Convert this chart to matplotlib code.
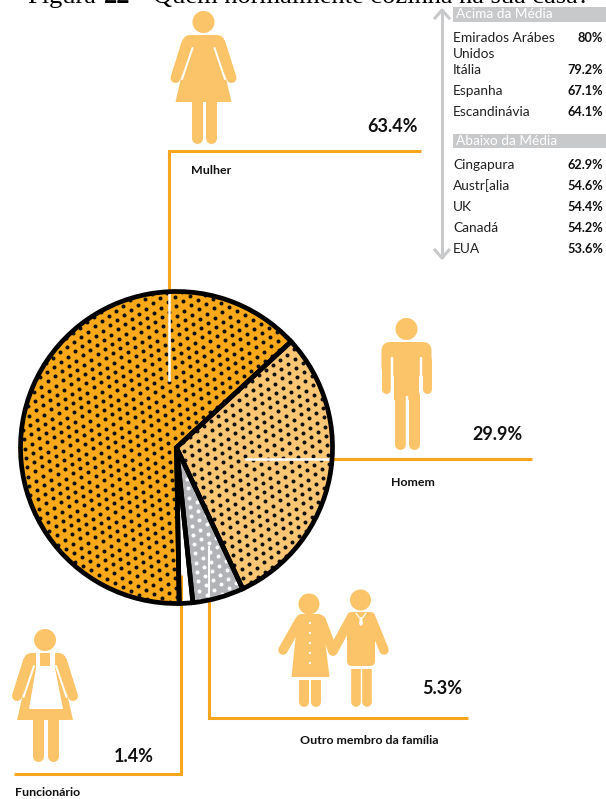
#!/usr/bin/env python3
"""Quem normalmente cozinha: pizza com pictogramas e tabela por país."""
import numpy as np
import matplotlib
matplotlib.use("Agg")
import matplotlib.pyplot as plt
from matplotlib.patches import Circle, FancyBboxPatch, Polygon, Rectangle

ORANGE, LIGHT, GREY, ICON = "#FBA919", "#FDC675", "#B1B3B6", "#FCC468"
LINE, BAND = "#F9A61F", "#C8C9CB"
SANS = "Lato"

groups = ["Mulher", "Homem", "Outro membro da família", "Funcionário"]
shares = [63.4, 29.9, 5.3, 1.4]
slice_colors = [ORANGE, LIGHT, GREY, "white"]
dot_colors = ["#111111", "#111111", "white", None]

above_names = ["Emirados Arábes\nUnidos", "Itália", "Espanha", "Escandinávia"]
above_vals = ["80%", "79.2%", "67.1%", "64.1%"]
below_names = ["Cingapura", "Austr[alia", "UK", "Canadá", "EUA"]
below_vals = ["62.9%", "54.6%", "54.4%", "54.2%", "53.6%"]

fig = plt.figure(figsize=(6.06, 7.99), dpi=100, facecolor="white")
ax = fig.add_axes([0, 0, 1, 1])


def limb(x0, y0, x1, y1, w, color=ICON, cap="round", z=5):
    # w em pixels da figura
    ax.plot([x0, x1], [y0, y1], color=color, lw=w * 0.72, solid_capstyle=cap, zorder=z)


def poly(pts, color=ICON, z=5):
    ax.add_patch(Polygon(pts, closed=True, fc=color, ec="none", zorder=z))


def block(x, y, w, h, r=7, color=ICON, z=5):
    ax.add_patch(FancyBboxPatch((x + r, y + r), w - 2 * r, h - 2 * r,
                                boxstyle=f"round,pad={r}", fc=color, ec="none", zorder=z))


def head(x, y, r=11):
    ax.add_patch(Circle((x, y), r, fc=ICON, ec="none", zorder=5))


def woman(cx, top, apron=False):
    # cx = eixo do corpo, top = centro da cabeça
    head(cx, top, 11)
    y = top + 13
    block(cx - 21, y, 42, 20, r=8)
    poly([(cx - 14, y + 6), (cx + 14, y + 6), (cx + 28, y + 67), (cx - 28, y + 67)])
    limb(cx - 17, y + 8, cx - 28, y + 43, 10)
    limb(cx + 17, y + 8, cx + 28, y + 43, 10)
    limb(cx - 11, y + 13, cx - 21.5, y + 44, 2, color="white", z=6)
    limb(cx + 11, y + 13, cx + 21.5, y + 44, 2, color="white", z=6)
    limb(cx - 7, y + 66, cx - 7, y + 103, 11)
    limb(cx + 7.5, y + 66, cx + 7.5, y + 103, 11)
    if apron:
        poly([(cx - 9, y), (cx + 10, y), (cx + 10, y + 15), (cx + 18, y + 56),
              (cx - 16, y + 56), (cx - 9, y + 15)], color="white", z=6)
        ax.add_patch(Rectangle((cx - 5, y), 10, 13, fc=ICON, ec="none", zorder=7))


def man():
    head(406.5, 329, 11)
    block(381.5, 342, 50, 34, r=9)
    ax.add_patch(Rectangle((394, 350), 25, 50, fc=ICON, ec="none", zorder=5))
    limb(386.2, 360, 386.2, 388.5, 9)
    limb(427.2, 360, 427.2, 388.5, 9)
    limb(392.3, 358, 392.3, 394, 2.5, color="white", z=6)
    limb(420.8, 358, 420.8, 394, 2.5, color="white", z=6)
    limb(399.5, 395, 399.5, 444, 11)
    limb(414, 395, 414, 444, 11)
    limb(406.8, 397, 406.8, 452, 2.5, color="white", z=6)


def couple():
    # ela
    head(309, 604, 10.5)
    poly([(298, 615), (322, 615), (329.5, 677), (291.5, 677)])
    block(297, 614, 26, 12, r=5)
    limb(300, 620, 283, 650, 9.5)
    limb(321, 620, 333, 651, 9.5)
    limb(304, 678, 304, 702, 10)
    limb(315.5, 678, 315.5, 702, 10)
    ax.add_patch(Rectangle((291, 677), 39, 2.5, fc="white", ec="none", zorder=6))
    for yb in (623, 633, 643, 653, 663):
        ax.add_patch(Circle((310, yb), 1.1, fc="white", ec="none", zorder=6))
    # ele
    head(360.5, 600, 10.5)
    block(347, 612, 28, 54, r=5)
    limb(351, 618, 333, 651, 9.5)
    limb(371, 618, 384, 650, 9.5)
    limb(356.2, 668, 356.2, 702, 9.6)
    limb(366.9, 668, 366.9, 702, 9.6)
    ax.add_patch(Rectangle((351, 666), 21, 2.5, fc="white", ec="none", zorder=6))
    limb(356, 613, 359.5, 618, 1.2, color="white", z=6)
    limb(366, 613, 362.5, 618, 1.2, color="white", z=6)
    poly([(360, 617), (362, 617), (363, 624), (361, 626), (359, 624)], color="white", z=6)


# fatias; eixo y invertido, por isso counterclock aparece no sentido horário
wedges, _ = ax.pie(shares, colors=slice_colors, center=(176.5, 447.5), radius=156,
                   startangle=-271, counterclock=True, frame=True,
                   wedgeprops={"lw": 0, "zorder": 1})

# textura de pontos, recortada em cada fatia
u, v = np.meshgrid(np.arange(-45, 45), np.arange(-45, 45))
dot_x = 176 + 8.0 * u + 1.0 * v
dot_y = 447 + 4.1 * u + 9.3 * v
for wedge, dc in zip(wedges, dot_colors):
    if dc is None:
        continue
    sc = ax.scatter(dot_x.ravel(), dot_y.ravel(), s=8.3, color=dc, lw=0, zorder=2)
    sc.set_clip_path(wedge)

# contorno por cima das linhas de chamada
ax.pie(shares, colors=["none"] * 4, center=(176.5, 447.5), radius=156,
       startangle=-271, counterclock=True, frame=True,
       wedgeprops={"lw": 3.4, "edgecolor": "black", "zorder": 4})

ax.set_xlim(0, 606)
ax.set_ylim(799, 0)
ax.set_aspect("auto")
ax.axis("off")

# linhas de chamada: laranja fora, branca dentro da pizza
leader = {"color": LINE, "lw": 2.2, "solid_joinstyle": "miter", "solid_capstyle": "butt", "zorder": 3}
ax.plot([421, 169, 169], [151, 151, 292], **leader)
ax.plot([169, 169], [292, 380], color="white", lw=1.8, zorder=3)
ax.plot([532, 332], [459, 459], **leader)
ax.plot([332, 246], [459, 459], color="white", lw=1.8, zorder=3)
ax.plot([209, 209, 468], [600, 718, 718], **leader)
ax.plot([209, 209], [547, 600], color="white", lw=1.5, zorder=3)
ax.plot([181, 181, 14], [575, 774, 774], **leader)

woman(203.5, 22)
man()
couple()
woman(45, 640, apron=True)

# rótulos de cada grupo
value_pos = [(418, 127), (523, 435), (462, 688), (154, 756)]
name_pos = [(191, 171), (391, 482), (300, 740), (15, 792)]
for g, s, (vx, vy), (nx, ny) in zip(groups, shares, value_pos, name_pos):
    ax.text(vx, vy, f"{s}%", ha="right", va="center", family=SANS, weight="bold",
            fontsize=13, color="#111111")
    ax.text(nx, ny, g, ha="left", va="center", family=SANS, weight="bold",
            fontsize=8.9, color="#111111")

# título cortado pela borda superior da página
serif = "Liberation Serif"
ax.text(27, 3, "Figura", family=serif, fontsize=19, va="baseline", color="black")
ax.text(104, 3, "22", family=serif, weight="bold", fontsize=19, va="baseline", color="black")
ax.text(133, 3, "–", family=serif, fontsize=19, va="baseline", color="black")
ax.text(153, 3, "Quem normalmente cozinha na sua casa?", family=serif, fontsize=19,
        va="baseline", color="black")

# seta e faixas da tabela
ax.plot([442, 442], [11, 257], color=BAND, lw=2.2, zorder=3)
ax.plot([435, 442, 449], [18, 10, 18], color=BAND, lw=2.2, zorder=3)
ax.plot([435, 442, 449], [250, 258, 250], color=BAND, lw=2.2, zorder=3)
for y0, y1, txt in [(7, 22, "Acima da Média"), (134, 148, "Abaixo da Média")]:
    ax.add_patch(Rectangle((453, y0), 153, y1 - y0, fc=BAND, ec="none", zorder=3))
    ax.text(456, (y0 + y1) / 2, txt, color="white", family=SANS, fontsize=9.8, va="center", zorder=4)

above_y = [38, 70, 91, 112]
below_y = [165, 186, 207, 228, 249]
for names, vals, ys in [(above_names, above_vals, above_y), (below_names, below_vals, below_y)]:
    for n, val, y in zip(names, vals, ys):
        if "\n" in n:
            first, second = n.split("\n")
            ax.text(453, y, first, family=SANS, fontsize=9.9, va="center", color="#222222")
            ax.text(453, y + 16, second, family=SANS, fontsize=9.9, va="center", color="#222222")
        else:
            ax.text(453, y, n, family=SANS, fontsize=9.9, va="center", color="#222222")
        ax.text(603, y, val, family=SANS, weight="bold", fontsize=9.2, va="center", ha="right",
                color="#111111")

fig.savefig("out.png", dpi=100, facecolor="white")
